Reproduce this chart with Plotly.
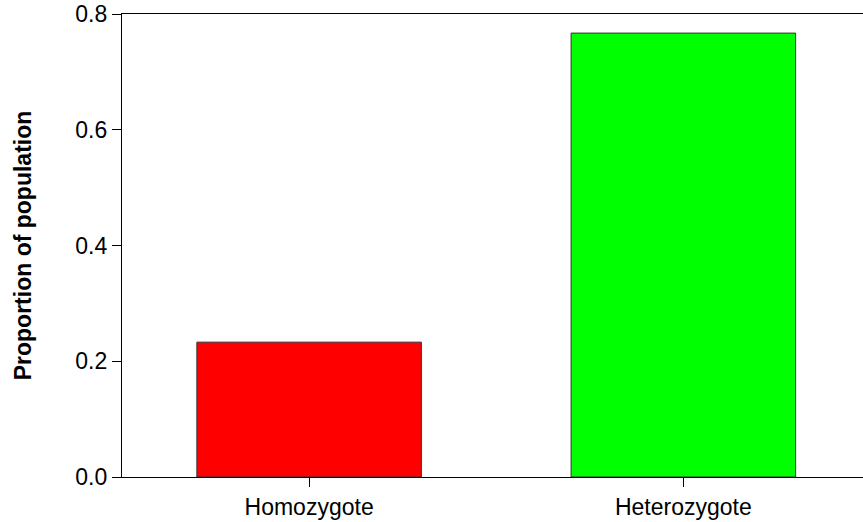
import plotly.graph_objects as go

categories = ["Homozygote", "Heterozygote"]
values = [0.233, 0.767]
colors = ["#FF0000", "#00FF00"]
y_ticks = [0.0, 0.2, 0.4, 0.6, 0.8]
y_tick_labels = ["0.0", "0.2", "0.4", "0.6", "0.8"]

fig = go.Figure(
    go.Bar(
        x=categories,
        y=values,
        marker=dict(color=colors, line=dict(color="#333333", width=1)),
        width=0.6,
        hoverinfo="skip",
    )
)

font = "Liberation Sans, Arial, sans-serif"
fig.update_layout(
    width=863,
    height=522,
    margin=dict(l=122, r=0, t=14, b=45),
    plot_bgcolor="white",
    paper_bgcolor="white",
    showlegend=False,
    font=dict(family=font, size=23, color="black"),
)
fig.update_xaxes(
    range=[-0.5, 1.48],
    showline=True,
    linecolor="black",
    linewidth=1.3,
    mirror=True,
    ticks="outside",
    ticklen=9,
    tickwidth=1.3,
    tickcolor="black",
    showgrid=False,
    automargin=False,
    tickfont=dict(family=font, size=23),
)
fig.update_yaxes(
    range=[0, 0.8],
    tickvals=y_ticks,
    ticktext=y_tick_labels,
    showline=True,
    linecolor="black",
    linewidth=1.3,
    ticks="outside",
    ticklen=9,
    tickwidth=1.3,
    tickcolor="black",
    showgrid=False,
    zeroline=False,
    automargin=False,
    ticklabeloverflow="allow",
    tickfont=dict(family=font, size=23),
    title=dict(text="<b>Proportion of population</b>", font=dict(family=font, size=23), standoff=37),
)

fig.write_html(
    "out.html",
    config={"displayModeBar": False},
    post_script="document.body.style.margin='0';",
)
